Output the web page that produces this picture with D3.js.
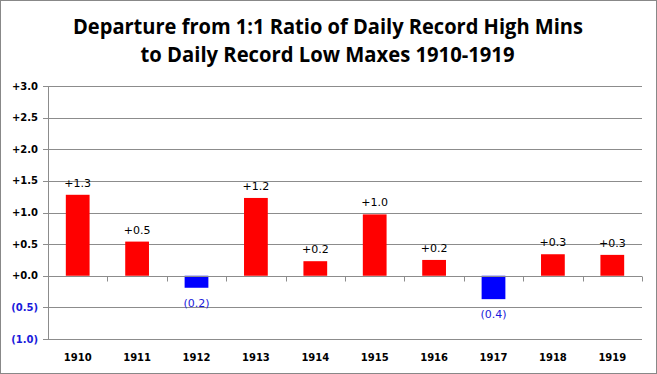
<!DOCTYPE html>
<html>
<head>
<meta charset="utf-8">
<script src="https://cdn.jsdelivr.net/npm/d3@7"></script>
<style>
  body { margin: 0; background: #fff; }
  svg { display: block; }
</style>
</head>
<body>
<div id="chart"></div>
<script>
// data
var years = ["1910", "1911", "1912", "1913", "1914", "1915", "1916", "1917", "1918", "1919"];
var departures = [1.28, 0.54, -0.19, 1.23, 0.23, 0.97, 0.25, -0.37, 0.34, 0.33];
var valueLabels = ["+1.3", "+0.5", "(0.2)", "+1.2", "+0.2", "+1.0", "+0.2", "(0.4)", "+0.3", "+0.3"];
var yTicks = [3.0, 2.5, 2.0, 1.5, 1.0, 0.5, 0.0, -0.5, -1.0];
var yTickLabels = ["+3.0", "+2.5", "+2.0", "+1.5", "+1.0", "+0.5", "+0.0", "(0.5)", "(1.0)"];

var W = 657, H = 374;
var margin = {top: 86, right: 15, bottom: 35, left: 48};
var width = W - margin.left - margin.right,
    height = H - margin.top - margin.bottom;

var svg = d3.select("#chart").append("svg")
  .attr("width", W)
  .attr("height", H);

// outer frame
svg.append("rect")
  .attr("x", 0.5).attr("y", 0.5)
  .attr("width", W - 1).attr("height", H - 1)
  .attr("fill", "#fff")
  .attr("stroke", "#888");

// title
var title = svg.append("g")
  .attr("font-family", "'Open Sans', 'Noto Sans', sans-serif")
  .attr("font-weight", "bold")
  .attr("font-size", 22)
  .attr("text-anchor", "middle");
title.append("text").attr("x", 328).attr("y", 34)
  .attr("textLength", 510).attr("lengthAdjust", "spacingAndGlyphs")
  .text("Departure from 1:1 Ratio of Daily Record High Mins");
title.append("text").attr("x", 327.5).attr("y", 62)
  .attr("textLength", 374).attr("lengthAdjust", "spacingAndGlyphs")
  .text("to Daily Record Low Maxes 1910-1919");

var g = svg.append("g")
  .attr("transform", "translate(" + margin.left + "," + margin.top + ")");

var x = d3.scaleBand().domain(years).range([0, width]).paddingInner(0.6).paddingOuter(0.3);
var xEdge = d3.scaleLinear().domain([0, years.length]).range([0, width]);
var y = d3.scaleLinear().domain([-1, 3]).range([height, 0]);

// gridlines
g.append("g").selectAll("line")
  .data(yTicks.filter(function (d) { return d !== 0; }))
  .enter().append("line")
  .attr("x1", -5).attr("x2", width)
  .attr("y1", function (d) { return Math.round(y(d)) + 0.5; })
  .attr("y2", function (d) { return Math.round(y(d)) + 0.5; })
  .attr("stroke", "#8c8c8c");

// left axis line
g.append("line")
  .attr("x1", 0.5).attr("x2", 0.5)
  .attr("y1", 0).attr("y2", height)
  .attr("stroke", "#8c8c8c");

// y tick labels
g.append("g").selectAll("text")
  .data(yTicks)
  .enter().append("text")
  .attr("x", -10)
  .attr("y", function (d) { return y(d); })
  .attr("dy", "0.35em")
  .attr("text-anchor", "end")
  .attr("font-family", "'DejaVu Sans', Verdana, sans-serif")
  .attr("font-weight", "bold")
  .attr("font-size", 10)
  .attr("fill", function (d) { return d < 0 ? "#1a1adb" : "#000"; })
  .text(function (d, i) { return yTickLabels[i]; });

// bars
g.append("g").selectAll("rect")
  .data(departures)
  .enter().append("rect")
  .attr("x", function (d, i) { return x(years[i]); })
  .attr("width", x.bandwidth())
  .attr("y", function (d) { return y(Math.max(0, d)); })
  .attr("height", function (d) { return Math.abs(y(d) - y(0)); })
  .attr("fill", function (d) { return d < 0 ? "#0000ff" : "#ff0000"; });

// zero axis with category ticks
var y0 = Math.round(y(0)) + 0.5;
g.append("line")
  .attr("x1", -5).attr("x2", width)
  .attr("y1", y0).attr("y2", y0)
  .attr("stroke", "#8c8c8c");
g.append("g").selectAll("line")
  .data(d3.range(years.length + 1))
  .enter().append("line")
  .attr("x1", function (d) { return Math.round(xEdge(d)) + 0.5; })
  .attr("x2", function (d) { return Math.round(xEdge(d)) + 0.5; })
  .attr("y1", y0).attr("y2", y0 + 5)
  .attr("stroke", "#8c8c8c");

// value labels
g.append("g").selectAll("text")
  .data(departures)
  .enter().append("text")
  .attr("x", function (d, i) { return x(years[i]) + x.bandwidth() / 2; })
  .attr("y", function (d) { return d < 0 ? y(d) + 19 : y(d) - 8; })
  .attr("text-anchor", "middle")
  .attr("font-family", "'DejaVu Sans', Verdana, sans-serif")
  .attr("font-size", 11)
  .attr("fill", function (d) { return d < 0 ? "#1a1adb" : "#000"; })
  .text(function (d, i) { return valueLabels[i]; });

// year labels
g.append("g").selectAll("text")
  .data(years)
  .enter().append("text")
  .attr("x", function (d) { return x(d) + x.bandwidth() / 2; })
  .attr("y", height + 22)
  .attr("text-anchor", "middle")
  .attr("font-family", "'DejaVu Sans', Verdana, sans-serif")
  .attr("font-weight", "bold")
  .attr("font-size", 10)
  .text(function (d) { return d; });
</script>
</body>
</html>
